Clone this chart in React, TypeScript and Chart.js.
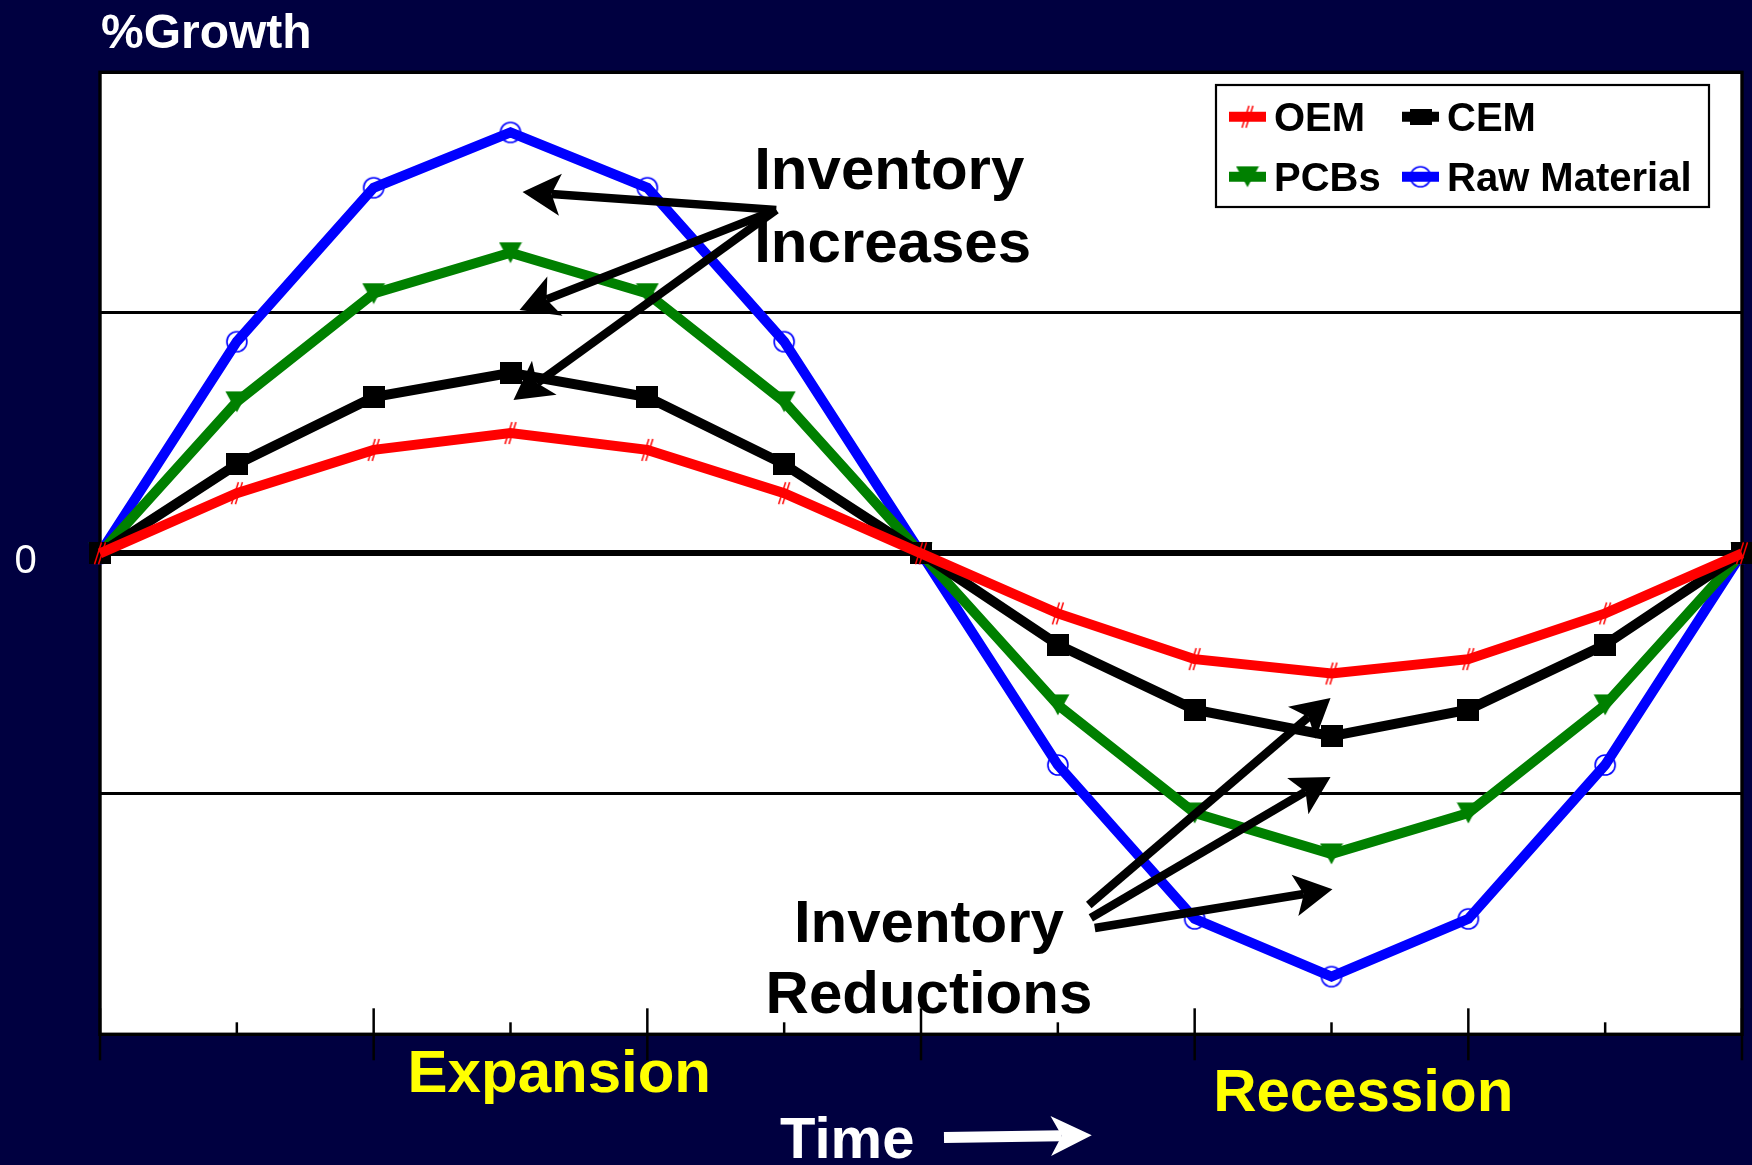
import React, { useEffect, useRef } from 'react';
import { Chart, registerables } from 'chart.js';

Chart.register(...registerables);

// ---------- data ----------
const periods = ['0', '1', '2', '3', '4', '5', '6', '7', '8', '9', '10', '11', '12'];
const oemGrowth = [0, 0.25, 0.43, 0.5, 0.43, 0.25, 0, -0.25, -0.44, -0.5, -0.44, -0.25, 0];
const cemGrowth = [0, 0.37, 0.65, 0.75, 0.65, 0.37, 0, -0.38, -0.65, -0.76, -0.65, -0.38, 0];
const pcbGrowth = [0, 0.63, 1.08, 1.25, 1.08, 0.63, 0, -0.63, -1.08, -1.25, -1.08, -0.63, 0];
const rawGrowth = [0, 0.88, 1.52, 1.75, 1.52, 0.88, 0, -0.88, -1.52, -1.76, -1.52, -0.88, 0];
const seriesLabels = ['OEM', 'CEM', 'PCBs', 'Raw Material'];
const seriesColors = ['#FF0000', '#000000', '#008000', '#0000FF'];
const yRange = [-2, 2];
const yLabelled = [0];
const axisTitle = '%Growth';
const phaseLabels = ['Expansion', 'Recession'];
const timeLabel = 'Time';
const increaseNote = ['Inventory', 'Increases'];
const reductionNote = ['Inventory', 'Reductions'];

// ---------- style ----------
const NAVY = '#000040';
const FONT = '"Liberation Sans", Arial, Helvetica, sans-serif';

function mk(w: number, h: number, draw: (c: CanvasRenderingContext2D) => void) {
  const cv = document.createElement('canvas');
  cv.width = w;
  cv.height = h;
  const c = cv.getContext('2d')!;
  draw(c);
  return cv;
}

function buildMarkers() {
  const oem = mk(16, 26, (c) => {
    c.strokeStyle = '#FF0000';
    c.lineWidth = 1.5;
    c.beginPath();
    c.moveTo(2.5, 24);
    c.lineTo(9.5, 2);
    c.moveTo(6.5, 24);
    c.lineTo(13.5, 2);
    c.stroke();
  });
  const cem = mk(22, 22, (c) => {
    c.fillStyle = '#000000';
    c.fillRect(0, 0, 22, 22);
  });
  const pcb = mk(24, 22, (c) => {
    c.fillStyle = '#008000';
    c.beginPath();
    c.moveTo(0.5, 0.5);
    c.lineTo(23.5, 0.5);
    c.lineTo(12, 21.5);
    c.closePath();
    c.fill();
  });
  const raw = mk(24, 24, (c) => {
    c.strokeStyle = '#0000FF';
    c.lineWidth = 1.6;
    c.beginPath();
    c.arc(12, 12, 10, 0, Math.PI * 2);
    c.stroke();
  });
  return [oem, cem, pcb, raw];
}

function stealthArrow(
  ctx: CanvasRenderingContext2D,
  x1: number, y1: number, x2: number, y2: number,
  o: { color: string; width: number; headLen: number; half: number; notch: number }
) {
  const ang = Math.atan2(y2 - y1, x2 - x1);
  const ux = Math.cos(ang), uy = Math.sin(ang);
  const nx = -uy, ny = ux;
  const nb = o.headLen - o.notch;
  ctx.save();
  ctx.strokeStyle = o.color;
  ctx.fillStyle = o.color;
  ctx.lineWidth = o.width;
  ctx.lineCap = 'butt';
  ctx.beginPath();
  ctx.moveTo(x1, y1);
  ctx.lineTo(x2 - ux * nb, y2 - uy * nb);
  ctx.stroke();
  ctx.beginPath();
  ctx.moveTo(x2, y2);
  ctx.lineTo(x2 - ux * o.headLen + nx * o.half, y2 - uy * o.headLen + ny * o.half);
  ctx.lineTo(x2 - ux * nb, y2 - uy * nb);
  ctx.lineTo(x2 - ux * o.headLen - nx * o.half, y2 - uy * o.headLen - ny * o.half);
  ctx.closePath();
  ctx.fill();
  ctx.restore();
}

function makeDecor(markers: HTMLCanvasElement[]) {
  return {
    id: 'decor',
    beforeDraw(chart: any) {
      const { ctx, chartArea: a, width, height } = chart;
      ctx.save();
      ctx.fillStyle = NAVY;
      ctx.fillRect(0, 0, width, height);
      ctx.fillStyle = '#FFFFFF';
      ctx.fillRect(a.left, a.top, a.right - a.left, a.bottom - a.top);
      ctx.restore();
    },
    beforeDatasetsDraw(chart: any) {
      const { ctx, chartArea: a } = chart;
      const xs = chart.scales.x;
      ctx.save();
      ctx.strokeStyle = '#000000';
      ctx.lineWidth = 3.4;
      ctx.strokeRect(a.left, a.top, a.right - a.left, a.bottom - a.top);
      ctx.lineWidth = 2.5;
      periods.forEach((_, i) => {
        const x = xs.getPixelForValue(i);
        const long = i % 2 === 0;
        ctx.beginPath();
        ctx.moveTo(x, a.bottom - (long ? 26 : 12));
        ctx.lineTo(x, a.bottom + (long ? 26 : 0));
        ctx.stroke();
      });
      ctx.restore();
    },
    afterDatasetsDraw(chart: any) {
      const { ctx, chartArea: a } = chart;
      const xs = chart.scales.x;
      const ys = chart.scales.y;
      const px = (v: number) => xs.getPixelForValue(v);
      const py = (v: number) => ys.getPixelForValue(v);
      ctx.save();

      // annotation text
      ctx.fillStyle = '#000000';
      ctx.font = `bold 60px ${FONT}`;
      ctx.textBaseline = 'alphabetic';
      ctx.textAlign = 'left';
      ctx.fillText(increaseNote[0], px(4.781), py(1.515));
      ctx.fillText(increaseNote[1], px(4.781), py(1.211));
      ctx.textAlign = 'center';
      ctx.fillText(reductionNote[0], px(6.058), py(-1.616));
      ctx.fillText(reductionNote[1], px(6.058), py(-1.911));

      // arrows
      const headA = { color: '#000000', width: 8.5, headLen: 38, half: 21, notch: 9 };
      const incFrom = [4.942, 1.428];
      const incTo = [[3.088, 1.502], [3.066, 1.012], [3.022, 0.637]];
      incTo.forEach((t) => stealthArrow(ctx, px(incFrom[0]), py(incFrom[1]), px(t[0]), py(t[1]), headA));
      const redFrom = [[7.226, -1.462], [7.241, -1.516], [7.27, -1.558]];
      const redTo = [[8.993, -0.602], [8.993, -0.93], [9.007, -1.397]];
      redTo.forEach((t, i) =>
        stealthArrow(ctx, px(redFrom[i][0]), py(redFrom[i][1]), px(t[0]), py(t[1]), headA)
      );

      // legend
      const boxL = a.right - 526;
      const boxT = a.top + 12.7;
      const boxW = 493;
      const boxH = 122;
      ctx.fillStyle = '#FFFFFF';
      ctx.fillRect(boxL, boxT, boxW, boxH);
      ctx.strokeStyle = '#000000';
      ctx.lineWidth = 2.2;
      ctx.strokeRect(boxL, boxT, boxW, boxH);
      ctx.font = `bold 40px ${FONT}`;
      ctx.textAlign = 'left';
      chart.data.datasets.forEach((ds: any, i: number) => {
        const col = i % 2;
        const row = Math.floor(i / 2);
        const lx = boxL + 13 + col * 173;
        const cy = boxT + 31.7 + row * 60;
        ctx.strokeStyle = ds.borderColor;
        ctx.lineWidth = 10;
        ctx.lineCap = 'butt';
        ctx.beginPath();
        ctx.moveTo(lx, cy);
        ctx.lineTo(lx + 37, cy);
        ctx.stroke();
        const m = markers[i];
        const mh = i === 1 ? 16 : m.height;
        ctx.drawImage(m, lx + 18.5 - m.width / 2, cy - mh / 2, m.width, mh);
        ctx.fillStyle = '#000000';
        ctx.fillText(ds.label, lx + 45, cy + 14.5);
      });

      // outside labels
      ctx.fillStyle = '#FFFFFF';
      ctx.font = `bold 48px ${FONT}`;
      ctx.textAlign = 'left';
      ctx.fillText(axisTitle, a.left + 1, a.top - 24.6);
      ctx.font = `40px ${FONT}`;
      ctx.textAlign = 'center';
      yLabelled.forEach((v) => ctx.fillText(String(v), 25.5, py(v) + 20));

      ctx.fillStyle = '#FFFF00';
      ctx.font = `bold 60px ${FONT}`;
      ctx.textAlign = 'left';
      ctx.fillText(phaseLabels[0], px(2.248), a.bottom + 57.7);
      ctx.fillText(phaseLabels[1], px(8.135), a.bottom + 76.7);

      ctx.fillStyle = '#FFFFFF';
      ctx.font = `bold 58px ${FONT}`;
      ctx.fillText(timeLabel, px(4.97), a.bottom + 123.7);
      stealthArrow(ctx, px(6.168), a.bottom + 103.2, px(7.248), a.bottom + 101, {
        color: '#FFFFFF', width: 11, headLen: 41, half: 20, notch: 11,
      });
      ctx.restore();
    },
  };
}

export default function App() {
  const ref = useRef<HTMLCanvasElement>(null);
  useEffect(() => {
    document.body.style.margin = '0';
    const canvas = ref.current!;
    const markers = buildMarkers();
    const values = [oemGrowth, cemGrowth, pcbGrowth, rawGrowth];
    const chart = new Chart(canvas, {
      type: 'line',
      data: {
        labels: periods,
        datasets: values.map((d, i) => ({
          label: seriesLabels[i],
          data: d,
          borderColor: seriesColors[i],
          backgroundColor: seriesColors[i],
          borderWidth: 10,
          tension: 0,
          fill: false,
          clip: false as any,
          pointStyle: markers[i] as any,
          pointRadius: 10,
          pointBorderWidth: 0,
        })),
      },
      options: {
        responsive: false,
        devicePixelRatio: 1,
        animation: false,
        events: [],
        layout: { padding: { left: 100, right: 8, top: 72.3, bottom: 130.7 } },
        plugins: {
          legend: { display: false },
          tooltip: { enabled: false },
          title: { display: false },
        },
        scales: {
          x: {
            type: 'category',
            offset: false,
            display: false,
          },
          y: {
            type: 'linear',
            min: yRange[0],
            max: yRange[1],
            display: true,
            ticks: { display: false, stepSize: 1 },
            border: { display: false },
            grid: {
              drawTicks: false,
              color: (c: any) =>
                c.tick && (c.tick.value === yRange[0] || c.tick.value === yRange[1])
                  ? 'rgba(0,0,0,0)'
                  : '#000000',
              lineWidth: (c: any) => (c.tick && c.tick.value === 0 ? 6 : 3),
            },
          },
        },
      },
      plugins: [makeDecor(markers)],
    });
    return () => chart.destroy();
  }, []);
  return (
    <div style={{ position: 'fixed', left: 0, top: 0, width: 1752, height: 1165, background: NAVY }}>
      <canvas ref={ref} width={1752} height={1165} style={{ display: 'block', width: 1752, height: 1165 }} />
    </div>
  );
}
